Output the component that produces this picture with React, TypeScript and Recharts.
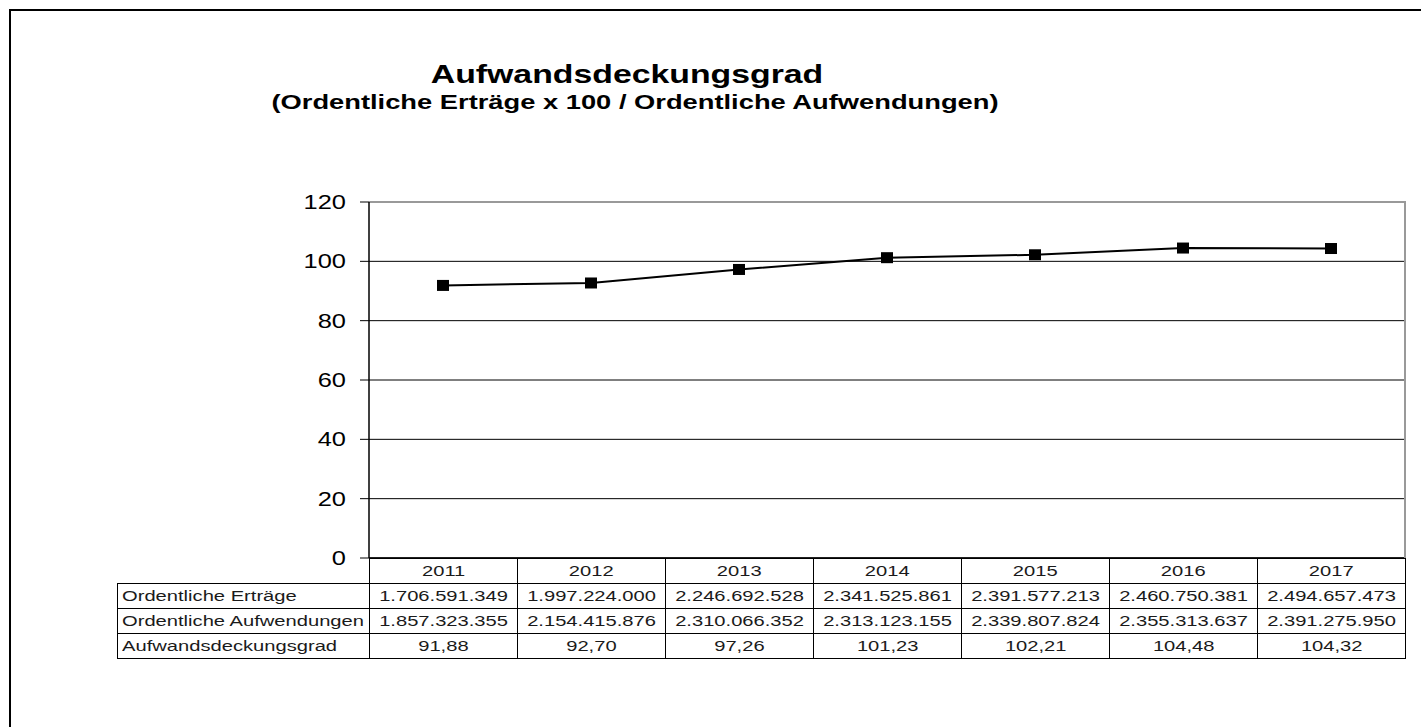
import React from "react";
import { LineChart, Line, XAxis, YAxis, CartesianGrid, ReferenceLine } from "recharts";

// values
const years = ["2011", "2012", "2013", "2014", "2015", "2016", "2017"];
const ertraege = [
  "1.706.591.349",
  "1.997.224.000",
  "2.246.692.528",
  "2.341.525.861",
  "2.391.577.213",
  "2.460.750.381",
  "2.494.657.473",
];
const aufwendungen = [
  "1.857.323.355",
  "2.154.415.876",
  "2.310.066.352",
  "2.313.123.155",
  "2.339.807.824",
  "2.355.313.637",
  "2.391.275.950",
];
const deckungsgrad = [91.88, 92.7, 97.26, 101.23, 102.21, 104.48, 104.32];
const yTicks = [0, 20, 40, 60, 80, 100, 120];

const data = years.map((year, i) => ({ year, grad: deckungsgrad[i] }));

const FONT = '"Liberation Sans", Arial, sans-serif';
const STRETCH = 1.3; // the source picture is stretched horizontally

// plot box
const PLOT_LEFT = 369;
const PLOT_RIGHT = 1405;
const PLOT_TOP = 202;
const PLOT_BOTTOM = 558;

const fmt = (v: number) => v.toFixed(2).replace(".", ",");

const rows = [
  { label: "Ordentliche Erträge", values: ertraege },
  { label: "Ordentliche Aufwendungen", values: aufwendungen },
  { label: "Aufwandsdeckungsgrad", values: deckungsgrad.map(fmt) },
];

const YTick = (props: any) => {
  const { x, y, payload } = props;
  return (
    <text
      x={x}
      y={y}
      dy={7}
      textAnchor="end"
      fontSize={20}
      fontFamily={FONT}
      fill="#000"
      transform={`translate(${x},0) scale(1.27,1) translate(${-x},0)`}
    >
      {payload.value}
    </text>
  );
};

const SquareDot = (props: any) => {
  const { cx, cy, index } = props;
  return <rect key={index} x={cx - 6} y={cy - 5.5} width={12} height={11} fill="#000" />;
};

const Stretched = ({ children, origin }: { children: React.ReactNode; origin: string }) => (
  <span
    style={{
      display: "inline-block",
      transform: `scaleX(${STRETCH})`,
      transformOrigin: origin,
      whiteSpace: "nowrap",
    }}
  >
    {children}
  </span>
);

const cell: React.CSSProperties = {
  border: "1px solid #000",
  height: 24,
  padding: 0,
  textAlign: "center",
  fontSize: 15.5,
  color: "#1a1a1a",
  lineHeight: "24px",
};

export default function App() {
  return (
    <div
      style={{
        position: "absolute",
        left: 0,
        top: 0,
        width: 1421,
        height: 727,
        overflow: "hidden",
        background: "#fff",
        fontFamily: FONT,
      }}
    >
      {/* outer frame: left and top edges only */}
      <div style={{ position: "absolute", left: 9, top: 9, width: 2, height: 718, background: "#000" }} />
      <div style={{ position: "absolute", left: 9, top: 9, width: 1412, height: 2, background: "#000" }} />

      <div
        style={{
          position: "absolute",
          left: 627,
          top: 59,
          fontSize: 26,
          fontWeight: "bold",
          whiteSpace: "nowrap",
          transform: `translateX(-50%) scaleX(${STRETCH})`,
        }}
      >
        Aufwandsdeckungsgrad
      </div>
      <div
        style={{
          position: "absolute",
          left: 635,
          top: 90,
          fontSize: 21,
          fontWeight: "bold",
          whiteSpace: "nowrap",
          transform: `translateX(-50%) scaleX(${STRETCH})`,
        }}
      >
        (Ordentliche Erträge x 100 / Ordentliche Aufwendungen)
      </div>

      <div style={{ position: "absolute", left: 0, top: 0 }}>
        <LineChart
          width={1410}
          height={727}
          data={data}
          margin={{ top: PLOT_TOP, right: 1410 - PLOT_RIGHT, bottom: 727 - PLOT_BOTTOM, left: PLOT_LEFT - 60 }}
        >
          <CartesianGrid vertical={false} stroke="#000" strokeWidth={1} />
          <XAxis dataKey="year" hide padding={{ left: 74, right: 74 }} />
          <YAxis
            domain={[0, 120]}
            ticks={yTicks}
            width={60}
            tickSize={9}
            tickMargin={14}
            tick={<YTick />}
            axisLine={{ stroke: "#000", strokeWidth: 1.5 }}
            tickLine={{ stroke: "#000" }}
          />
          <ReferenceLine y={120} stroke="#999" strokeWidth={2} />
          <ReferenceLine y={0} stroke="#000" strokeWidth={1.5} />
          <Line
            type="linear"
            dataKey="grad"
            stroke="#000"
            strokeWidth={2}
            dot={<SquareDot />}
            activeDot={false}
            isAnimationActive={false}
          />
        </LineChart>
      </div>

      {/* grey right edge of the plot box */}
      <div
        style={{
          position: "absolute",
          left: PLOT_RIGHT - 1,
          top: PLOT_TOP - 1,
          width: 2,
          height: PLOT_BOTTOM - PLOT_TOP + 1,
          background: "#999",
        }}
      />

      <table
        style={{
          position: "absolute",
          left: 117,
          top: PLOT_BOTTOM,
          borderCollapse: "collapse",
          tableLayout: "fixed",
          width: PLOT_RIGHT - 117,
        }}
      >
        <colgroup>
          <col style={{ width: PLOT_LEFT - 117 }} />
          {years.map((y) => (
            <col key={y} style={{ width: (PLOT_RIGHT - PLOT_LEFT) / years.length }} />
          ))}
        </colgroup>
        <tbody>
          <tr>
            <td style={{ ...cell, border: "none", borderRight: "1px solid #000" }} />
            {years.map((y) => (
              <td key={y} style={cell}>
                <Stretched origin="center">{y}</Stretched>
              </td>
            ))}
          </tr>
          {rows.map((r) => (
            <tr key={r.label}>
              <td style={{ ...cell, textAlign: "left", paddingLeft: 4 }}>
                <Stretched origin="left">{r.label}</Stretched>
              </td>
              {r.values.map((v, i) => (
                <td key={i} style={cell}>
                  <Stretched origin="center">{v}</Stretched>
                </td>
              ))}
            </tr>
          ))}
        </tbody>
      </table>
    </div>
  );
}
